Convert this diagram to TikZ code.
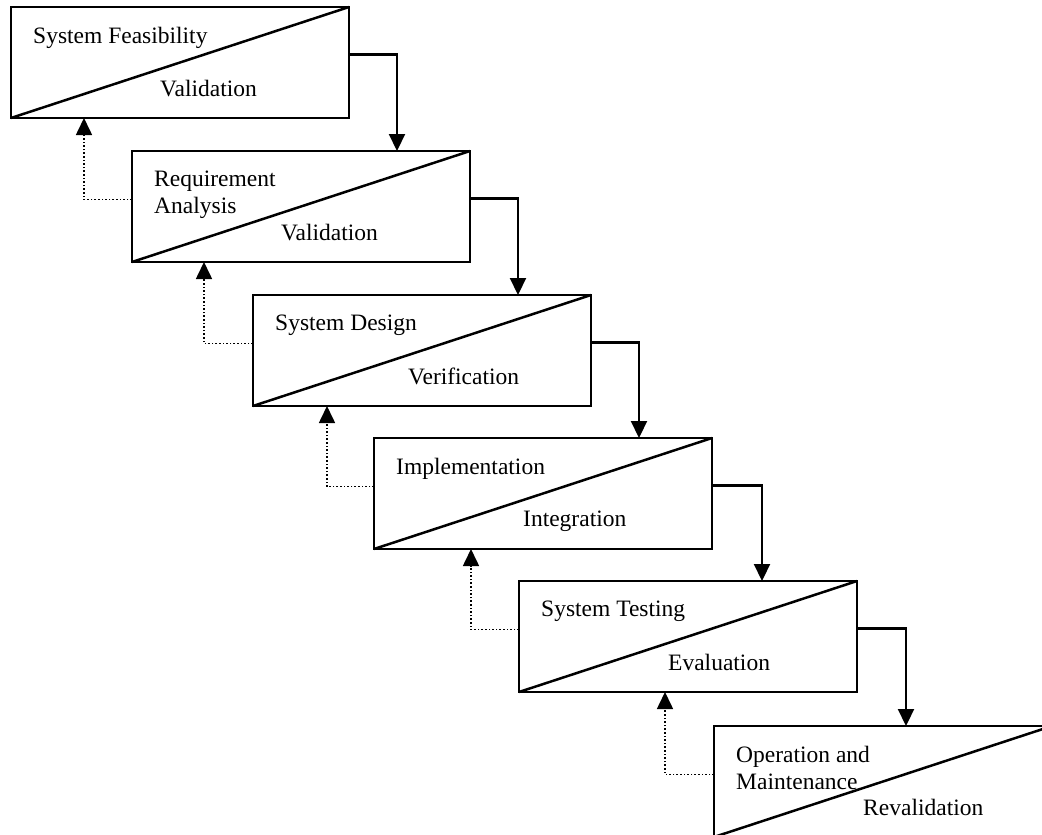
\documentclass[tikz,border=0pt]{standalone}
\usepackage{fontspec}
\setmainfont{Liberation Serif}
\usetikzlibrary{arrows.meta,positioning,calc}

\begin{document}
\begin{tikzpicture}[
    x=1pt,y=1pt,
    stage/.style={draw,line width=2.8pt,minimum width=338pt,minimum height=111pt,anchor=north west,inner sep=0pt,outer sep=0pt},
    diag/.style={line width=2.5pt},
    toplbl/.style={align=left,inner sep=0pt,font=\fontsize{23.5}{27}\selectfont},
    lowlbl/.style={inner sep=0pt,font=\fontsize{23.5}{27}\selectfont},
    arrow/.style={line width=2.2pt,-{Triangle[length=17pt,width=16pt]}},
    back/.style={dotted,line width=1.6pt,-{Triangle[length=17pt,width=16pt]}}
]
    \clip (0,0) rectangle (1042,-835);

    \node[stage] (s1) at (11,-7) {};
    \node[stage] (s2) at (132,-151) {};
    \node[stage] (s3) at (253,-295) {};
    \node[stage] (s4) at (374,-438) {};
    \node[stage] (s5) at (519,-581) {};
    \node[stage] (s6) at (714,-726) {};

    \draw[diag] (s1.south west) -- (s1.north east);
    \draw[diag] (s2.south west) -- (s2.north east);
    \draw[diag] (s3.south west) -- (s3.north east);
    \draw[diag] (s4.south west) -- (s4.north east);
    \draw[diag] (s5.south west) -- (s5.north east);
    \draw[diag] (s6.south west) -- (s6.north east);

    \node[toplbl,below right=20pt and 22pt of s1.north west] (t1) {System Feasibility};
    \node[lowlbl,below right=73pt and 149pt of s1.north west] (b1) {Validation};
    \node[toplbl,below right=20pt and 22pt of s2.north west] (t2) {Requirement\\Analysis};
    \node[lowlbl,below right=73pt and 149pt of s2.north west] (b2) {Validation};
    \node[toplbl,below right=20pt and 22pt of s3.north west] (t3) {System Design};
    \node[lowlbl,below right=73pt and 155pt of s3.north west] (b3) {Verification};
    \node[toplbl,below right=20pt and 22pt of s4.north west] (t4) {Implementation};
    \node[lowlbl,below right=73pt and 149pt of s4.north west] (b4) {Integration};
    \node[toplbl,below right=20pt and 22pt of s5.north west] (t5) {System Testing};
    \node[lowlbl,below right=73pt and 149pt of s5.north west] (b5) {Evaluation};
    \node[toplbl,below right=20pt and 22pt of s6.north west] (t6) {Operation and\\Maintenance};
    \node[lowlbl,below right=73pt and 149pt of s6.north west] (b6) {Revalidation};

    % forward flow
    \draw[arrow] ([yshift=8pt]s1.east) -| ([xshift=96pt]s2.north);
    \draw[arrow] ([yshift=8pt]s2.east) -| ([xshift=96pt]s3.north);
    \draw[arrow] ([yshift=8pt]s3.east) -| ([xshift=96pt]s4.north);
    \draw[arrow] ([yshift=8pt]s4.east) -| ([xshift=74pt]s5.north);
    \draw[arrow] ([yshift=8pt]s5.east) -| ([xshift=23pt]s6.north);

    % feedback
    \draw[back] ([yshift=7pt]s2.west) -| ([xshift=-96pt]s1.south);
    \draw[back] ([yshift=7pt]s3.west) -| ([xshift=-97pt]s2.south);
    \draw[back] ([yshift=7pt]s4.west) -| ([xshift=-95pt]s3.south);
    \draw[back] ([yshift=7pt]s5.west) -| ([xshift=-72pt]s4.south);
    \draw[back] ([yshift=7pt]s6.west) -| ([xshift=-23pt]s5.south);
\end{tikzpicture}
\end{document}
